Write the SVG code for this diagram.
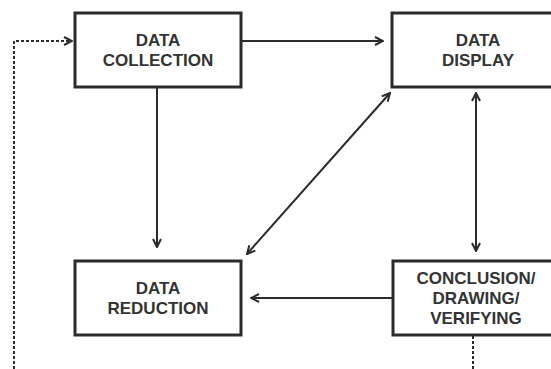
<svg xmlns="http://www.w3.org/2000/svg" width="551" height="369" viewBox="0 0 551 369">
<defs>
<marker id="ah" viewBox="0 0 10 10" refX="9" refY="5" markerWidth="10" markerHeight="10" markerUnits="userSpaceOnUse" orient="auto-start-reverse">
<path d="M1,1 L9,5 L1,9" fill="none" stroke="#2b2b2b" stroke-width="2"/>
</marker>
</defs>
<style>
.box{fill:#fff;stroke:#2b2b2b;stroke-width:3}
.lbl{font-family:"Liberation Sans",Arial,sans-serif;font-weight:bold;font-size:17px;fill:#333;text-anchor:middle}
.c{fill:none;stroke:#2b2b2b;stroke-width:2}
.d{fill:none;stroke:#2b2b2b;stroke-width:2;stroke-dasharray:3 2}
</style>
<rect width="551" height="369" fill="#fff"/>
<g id="connectors">
<path class="d" d="M14,369 V41 H72" marker-end="url(#ah)"/>
<path class="c" d="M242,41 H383" marker-end="url(#ah)"/>
<path class="c" d="M157,88 V247" marker-end="url(#ah)"/>
<path class="c" d="M247,254 L390,93" marker-start="url(#ah)" marker-end="url(#ah)"/>
<path class="c" d="M476,93 V251" marker-start="url(#ah)" marker-end="url(#ah)"/>
<path class="c" d="M392,298 H251" marker-end="url(#ah)"/>
<path class="d" d="M473,336 V369"/>
</g>
<g id="data-collection">
<rect class="box" x="75" y="13" width="166" height="74"/>
<text class="lbl" x="158" y="46">DATA</text>
<text class="lbl" x="158" y="66">COLLECTION</text>
</g>
<g id="data-display">
<rect class="box" x="392" y="13" width="167" height="74"/>
<text class="lbl" x="478" y="46">DATA</text>
<text class="lbl" x="478" y="66">DISPLAY</text>
</g>
<g id="data-reduction">
<rect class="box" x="75" y="261" width="166" height="74"/>
<text class="lbl" x="158" y="294">DATA</text>
<text class="lbl" x="158" y="314">REDUCTION</text>
</g>
<g id="conclusion">
<rect class="box" x="393" y="261" width="166" height="74"/>
<text class="lbl" x="476" y="284">CONCLUSION/</text>
<text class="lbl" x="476" y="304">DRAWING/</text>
<text class="lbl" x="476" y="324">VERIFYING</text>
</g>
</svg>
